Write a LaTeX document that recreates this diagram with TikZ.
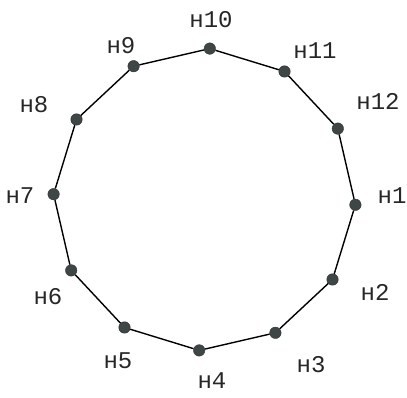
\documentclass[tikz,border=0pt]{standalone}
\usepackage{fontspec}
\setmonofont{Liberation Mono}
\usepackage{tikz}
\definecolor{dotgray}{HTML}{3F4646}

\begin{document}
\begin{tikzpicture}[x=1pt, y=1pt,
  vert/.style={circle, fill=dotgray, draw=black!80, line width=0.4pt, inner sep=0pt, minimum size=11.5pt},
  lbl/.style={font=\ttfamily\fontsize{24}{26}\selectfont, text=black!85, inner sep=0pt},
  edge/.style={black, line width=1.4pt}]
\useasboundingbox (0,0) rectangle (407,398);

% ---- vertices of the 12-gon --------------------------------------------
\node[vert] (n1)  at (355.4,193.2) {};
\node[vert] (n2)  at (332.5,118.5) {};
\node[vert] (n3)  at (275.4, 65.2) {};
\node[vert] (n4)  at (199.2, 47.6) {};
\node[vert] (n5)  at (124.5, 70.5) {};
\node[vert] (n6)  at ( 71.2,127.6) {};
\node[vert] (n7)  at ( 53.6,203.8) {};
\node[vert] (n8)  at ( 76.5,278.5) {};
\node[vert] (n9)  at (133.6,331.8) {};
\node[vert] (n10) at (209.8,349.4) {};
\node[vert] (n11) at (284.5,326.5) {};
\node[vert] (n12) at (337.8,269.4) {};

% ---- edges -------------------------------------------------------------
\draw[edge] (n1) -- (n2) -- (n3) -- (n4) -- (n5) -- (n6) -- (n7)
  -- (n8) -- (n9) -- (n10) -- (n11) -- (n12) -- (n1);

% ---- labels ------------------------------------------------------------
\node[lbl] (l1)  at (392,202) {н1};
\node[lbl] (l2)  at (375,106) {н2};
\node[lbl] (l3)  at (311, 33) {н3};
\node[lbl] (l4)  at (212, 17) {н4};
\node[lbl] (l5)  at (118, 37) {н5};
\node[lbl] (l6)  at ( 48,101) {н6};
\node[lbl] (l7)  at ( 20,202) {н7};
\node[lbl] (l8)  at ( 34,293) {н8};
\node[lbl] (l9)  at (121,352) {н9};
\node[lbl] (l10) at (211,378) {н10};
\node[lbl] (l11) at (315,347) {н11};
\node[lbl] (l12) at (378,297) {н12};
\end{tikzpicture}
\end{document}
